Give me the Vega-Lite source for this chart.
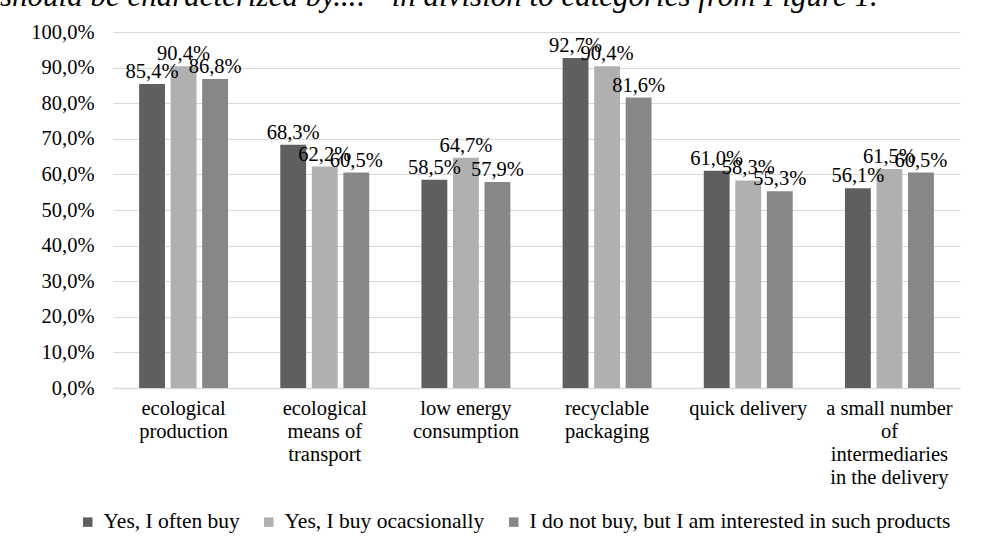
{
  "$schema": "https://vega.github.io/schema/vega-lite/v6.json",
  "autosize": "none",
  "width": 847,
  "height": 356,
  "padding": {"left": 113, "top": 32, "right": 35, "bottom": 166},
  "background": "white",
  "config": {
    "view": {"stroke": null},
    "font": "Liberation Serif",
    "locale": {"number": {"decimal": ",", "thousands": " ", "grouping": [3], "currency": ["", ""]}}
  },
  "title": {
    "text": "should be characterized by...:” in division to categories from Figure 1.",
    "anchor": "start",
    "frame": "group",
    "font": "Liberation Serif",
    "fontStyle": "italic",
    "fontWeight": "normal",
    "fontSize": 31,
    "color": "black",
    "baseline": "alphabetic",
    "dx": -113,
    "dy": 15,
    "offset": 0
  },
  "data": {
    "values": [
      {"category": "ecological|production", "series": "Yes, I often buy", "value": 0.854},
      {"category": "ecological|production", "series": "Yes, I buy ocacsionally", "value": 0.904},
      {"category": "ecological|production", "series": "I do not buy, but I am interested in such products", "value": 0.868},
      {"category": "ecological|means of|transport", "series": "Yes, I often buy", "value": 0.683},
      {"category": "ecological|means of|transport", "series": "Yes, I buy ocacsionally", "value": 0.622},
      {"category": "ecological|means of|transport", "series": "I do not buy, but I am interested in such products", "value": 0.605},
      {"category": "low energy|consumption", "series": "Yes, I often buy", "value": 0.585},
      {"category": "low energy|consumption", "series": "Yes, I buy ocacsionally", "value": 0.647},
      {"category": "low energy|consumption", "series": "I do not buy, but I am interested in such products", "value": 0.579},
      {"category": "recyclable|packaging", "series": "Yes, I often buy", "value": 0.927},
      {"category": "recyclable|packaging", "series": "Yes, I buy ocacsionally", "value": 0.904},
      {"category": "recyclable|packaging", "series": "I do not buy, but I am interested in such products", "value": 0.816},
      {"category": "quick delivery", "series": "Yes, I often buy", "value": 0.610},
      {"category": "quick delivery", "series": "Yes, I buy ocacsionally", "value": 0.583},
      {"category": "quick delivery", "series": "I do not buy, but I am interested in such products", "value": 0.553},
      {"category": "a small number|of|intermediaries|in the delivery", "series": "Yes, I often buy", "value": 0.561},
      {"category": "a small number|of|intermediaries|in the delivery", "series": "Yes, I buy ocacsionally", "value": 0.615},
      {"category": "a small number|of|intermediaries|in the delivery", "series": "I do not buy, but I am interested in such products", "value": 0.605}
    ]
  },
  "encoding": {
    "x": {
      "field": "category",
      "type": "nominal",
      "sort": null,
      "scale": {"paddingInner": 0.37, "paddingOuter": 0.185},
      "axis": {
        "title": null,
        "labelAngle": 0,
        "labelExpr": "split(datum.label, '|')",
        "labelFont": "Liberation Serif",
        "labelFontSize": 20.5,
        "labelColor": "#000000",
        "labelPadding": 10,
        "labelLineHeight": 23,
        "labelLimit": 200,
        "ticks": false,
        "domainColor": "#d9d9d9",
        "domainWidth": 1.5
      }
    },
    "xOffset": {
      "field": "series",
      "type": "nominal",
      "sort": ["Yes, I often buy", "Yes, I buy ocacsionally", "I do not buy, but I am interested in such products"],
      "scale": {"paddingInner": 0.18, "paddingOuter": 0}
    },
    "y": {
      "field": "value",
      "type": "quantitative",
      "scale": {"domain": [0, 1], "nice": false},
      "axis": {
        "title": null,
        "format": ".1%",
        "values": [0, 0.1, 0.2, 0.3, 0.4, 0.5, 0.6, 0.7, 0.8, 0.9, 1.0],
        "labelOverlap": false,
        "labelFont": "Liberation Serif",
        "labelFontSize": 20.5,
        "labelColor": "#000000",
        "labelPadding": 19,
        "ticks": false,
        "domain": false,
        "gridColor": "#d9d9d9",
        "gridWidth": 1
      }
    }
  },
  "layer": [
    {
      "mark": {"type": "bar"},
      "encoding": {
        "color": {
          "field": "series",
          "type": "nominal",
          "sort": ["Yes, I often buy", "Yes, I buy ocacsionally", "I do not buy, but I am interested in such products"],
          "scale": {"range": ["#5f5f5f", "#b0b0b0", "#878787"]},
          "legend": {
            "title": null,
            "orient": "none",
            "direction": "horizontal",
            "legendX": -36,
            "legendY": 479,
            "symbolType": "square",
            "symbolSize": 90,
            "symbolStrokeWidth": 0,
            "labelFont": "Liberation Serif",
            "labelFontSize": 21.5,
            "labelColor": "#000000",
            "labelLimit": 600,
            "columnPadding": 18,
            "labelOffset": 5
          }
        }
      }
    },
    {
      "mark": {"type": "text", "baseline": "alphabetic", "dy": -6, "font": "Liberation Serif", "fontSize": 20.5, "color": "#000000"},
      "encoding": {
        "text": {"field": "value", "type": "quantitative", "format": ".1%"}
      }
    }
  ]
}
